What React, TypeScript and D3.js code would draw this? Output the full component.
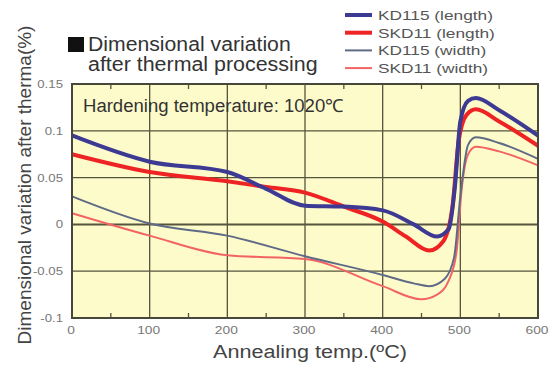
import React, { useRef, useEffect } from "react";
import * as d3 from "d3";

// annealing temperature (°C) / dimensional variation (%)
const kd115Length: [number, number][] = [
  [0, 0.095], [100, 0.067], [200, 0.056], [250, 0.038], [300, 0.02], [350, 0.019], [400, 0.015],
  [440, 0.0], [470, -0.013], [485, -0.005], [493, 0.04], [500, 0.11], [510, 0.132],
  [520, 0.135], [550, 0.122], [600, 0.095],
];
const skd11Length: [number, number][] = [
  [0, 0.075], [100, 0.056], [200, 0.046], [250, 0.04], [300, 0.034], [350, 0.019], [400, 0.003],
  [430, -0.013], [460, -0.028], [478, -0.018], [490, 0.02], [498, 0.09], [508, 0.117],
  [520, 0.123], [550, 0.11], [600, 0.084],
];
const kd115Width: [number, number][] = [
  [0, 0.03], [100, 0.001], [200, -0.012], [300, -0.034], [400, -0.054], [440, -0.063],
  [460, -0.066], [480, -0.058], [492, -0.035], [500, 0.03], [510, 0.085], [520, 0.093],
  [550, 0.087], [600, 0.07],
];
const skd11Width: [number, number][] = [
  [0, 0.012], [100, -0.012], [200, -0.033], [300, -0.037], [400, -0.066], [450, -0.08],
  [470, -0.075], [485, -0.06], [495, -0.03], [502, 0.04], [510, 0.075], [520, 0.083],
  [550, 0.078], [600, 0.063],
];

const xTicks = [0, 100, 200, 300, 400, 500, 600];
const yTicks = [0.15, 0.1, 0.05, 0, -0.05, -0.1];
const yTickLabels = ["0.15", "0.1", "0.05", "0", "-0.05", "-0.1"];

const series = [
  { name: "KD115 (length)", data: kd115Length, color: "#3d3a94", width: 4 },
  { name: "SKD11 (length)", data: skd11Length, color: "#ee2424", width: 4 },
  { name: "KD115 (width)", data: kd115Width, color: "#5f6b86", width: 2 },
  { name: "SKD11 (width)", data: skd11Width, color: "#f26464", width: 2 },
];

const font = "'Liberation Sans', Arial, sans-serif";

// the original artwork has horizontally stretched lettering
function widen(sel: d3.Selection<SVGTextElement, any, any, any>, k: number) {
  sel.each(function () {
    const w = this.getComputedTextLength();
    d3.select(this).attr("textLength", w * k).attr("lengthAdjust", "spacingAndGlyphs");
  });
}

export default function App() {
  const svgRef = useRef<SVGSVGElement>(null);

  useEffect(() => {
    const width = 552;
    const height = 370;
    const margin = { top: 84, right: 14, bottom: 52, left: 72 };

    const svg = d3.select(svgRef.current).attr("width", width).attr("height", height);
    svg.selectAll("*").remove();

    const x = d3.scaleLinear().domain([0, 600]).range([margin.left, width - margin.right]);
    const y = d3.scaleLinear().domain([-0.1, 0.15]).range([height - margin.bottom, margin.top]);

    // plot background
    svg.append("rect")
      .attr("x", x(0)).attr("y", y(0.15))
      .attr("width", x(600) - x(0)).attr("height", y(-0.1) - y(0.15))
      .attr("fill", "#fefbcb");

    // grid
    const grid = svg.append("g").attr("stroke", "#55543c").attr("stroke-width", 1.3);
    xTicks.slice(1, -1).forEach((t) => {
      grid.append("line").attr("x1", x(t)).attr("x2", x(t)).attr("y1", y(0.15)).attr("y2", y(-0.1));
    });
    yTicks.slice(1, -1).forEach((t) => {
      grid.append("line").attr("x1", x(0)).attr("x2", x(600)).attr("y1", y(t)).attr("y2", y(t))
        .attr("stroke-width", t === 0 ? 2 : 1.3);
    });

    // minor ticks at 50s, pointing inward
    d3.range(50, 600, 100).forEach((t) => {
      grid.append("line").attr("x1", x(t)).attr("x2", x(t)).attr("y1", y(-0.1)).attr("y2", y(-0.1) - 5);
      grid.append("line").attr("x1", x(t)).attr("x2", x(t)).attr("y1", y(0.15)).attr("y2", y(0.15) + 5);
    });

    // hardening label
    svg.append("text")
      .attr("x", x(0) + 11).attr("y", y(0.15) + 28)
      .attr("font-family", font).attr("font-size", 18).attr("fill", "#333")
      .text("Hardening temperature: 1020\u2103")
      .call(widen, 1.03);

    // lines
    const line = d3.line<[number, number]>()
      .x((d) => x(d[0])).y((d) => y(d[1]))
      .curve(d3.curveMonotoneX);

    [...series].reverse().forEach((s) => {
      svg.append("path")
        .datum(s.data)
        .attr("fill", "none")
        .attr("stroke", s.color)
        .attr("stroke-width", s.width)
        .attr("stroke-linejoin", "round")
        .attr("d", line);
    });

    // border
    svg.append("rect")
      .attr("x", x(0)).attr("y", y(0.15))
      .attr("width", x(600) - x(0)).attr("height", y(-0.1) - y(0.15))
      .attr("fill", "none").attr("stroke", "#47473a").attr("stroke-width", 2);

    // tick labels
    svg.append("g").selectAll("text").data(xTicks).enter().append("text")
      .attr("x", (d) => x(d) - 1).attr("y", height - margin.bottom + 16)
      .attr("text-anchor", "middle")
      .attr("font-family", font).attr("font-size", 11).attr("fill", "#777")
      .text((d) => String(d))
      .call(widen, 1.25);

    svg.append("g").selectAll("text").data(yTicks).enter().append("text")
      .attr("x", x(0) - 9).attr("y", (d) => y(d) + 4)
      .attr("text-anchor", "end")
      .attr("font-family", font).attr("font-size", 11).attr("fill", "#777")
      .text((d, i) => yTickLabels[i])
      .call(widen, 1.2);

    // axis titles
    svg.append("text")
      .attr("x", (x(0) + x(600)) / 2 + 5).attr("y", 358)
      .attr("text-anchor", "middle")
      .attr("font-family", font).attr("font-size", 18).attr("fill", "#444")
      .text("Annealing temp.(\u00baC)")
      .call(widen, 1.2);

    svg.append("text")
      .attr("transform", "rotate(-90)")
      .attr("x", -185).attr("y", 31)
      .attr("text-anchor", "middle")
      .attr("font-family", font).attr("font-size", 19).attr("fill", "#444")
      .text("Dimensional variation after therma(%)")
      .call(widen, 1.0);

    // title
    svg.append("rect").attr("x", 68).attr("y", 37).attr("width", 16).attr("height", 15).attr("fill", "#111");
    svg.append("text")
      .attr("x", 88).attr("y", 51)
      .attr("font-family", font).attr("font-size", 20).attr("fill", "#333")
      .text("Dimensional variation")
      .call(widen, 1.06);
    svg.append("text")
      .attr("x", 88).attr("y", 71)
      .attr("font-family", font).attr("font-size", 20).attr("fill", "#333")
      .text("after thermal processing")
      .call(widen, 1.07);

    // legend
    const legend = svg.append("g").attr("transform", "translate(345, 15)");
    series.forEach((s, i) => {
      const ly = i * 17.7;
      legend.append("line")
        .attr("x1", 0).attr("x2", 27).attr("y1", ly).attr("y2", ly)
        .attr("stroke", s.color).attr("stroke-width", s.width);
      legend.append("text")
        .attr("x", 33).attr("y", ly + 5)
        .attr("font-family", font).attr("font-size", 13.5).attr("fill", "#555")
        .text(s.name)
        .call(widen, 1.28);
    });
  }, []);

  return <svg ref={svgRef} style={{ position: "absolute", left: 0, top: 0, display: "block" }} />;
}
